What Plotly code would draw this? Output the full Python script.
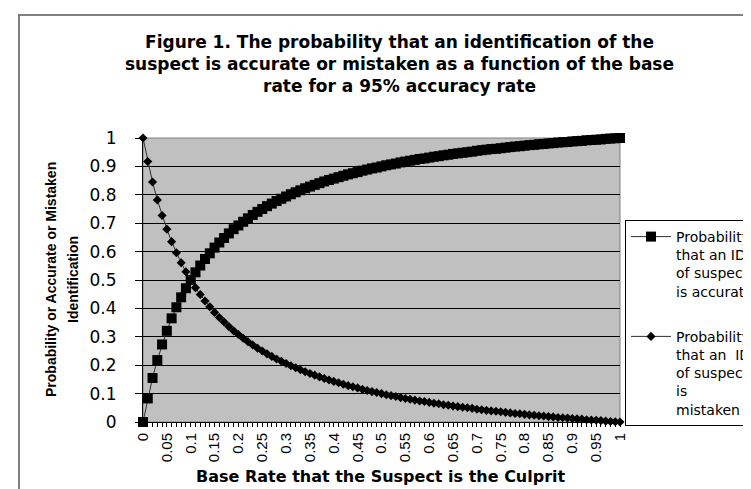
import plotly.graph_objects as go

# ---------------- data ----------------
base_rate = [0.00, 0.01, 0.02, 0.03, 0.04, 0.05, 0.06, 0.07, 0.08, 0.09,
             0.10, 0.11, 0.12, 0.13, 0.14, 0.15, 0.16, 0.17, 0.18, 0.19,
             0.20, 0.21, 0.22, 0.23, 0.24, 0.25, 0.26, 0.27, 0.28, 0.29,
             0.30, 0.31, 0.32, 0.33, 0.34, 0.35, 0.36, 0.37, 0.38, 0.39,
             0.40, 0.41, 0.42, 0.43, 0.44, 0.45, 0.46, 0.47, 0.48, 0.49,
             0.50, 0.51, 0.52, 0.53, 0.54, 0.55, 0.56, 0.57, 0.58, 0.59,
             0.60, 0.61, 0.62, 0.63, 0.64, 0.65, 0.66, 0.67, 0.68, 0.69,
             0.70, 0.71, 0.72, 0.73, 0.74, 0.75, 0.76, 0.77, 0.78, 0.79,
             0.80, 0.81, 0.82, 0.83, 0.84, 0.85, 0.86, 0.87, 0.88, 0.89,
             0.90, 0.91, 0.92, 0.93, 0.94, 0.95, 0.96, 0.97, 0.98, 0.99, 1.00]

p_accurate = [0.000, 0.083, 0.155, 0.218, 0.273, 0.321, 0.365, 0.404, 0.439, 0.471,
              0.500, 0.527, 0.551, 0.574, 0.594, 0.614, 0.632, 0.648, 0.664, 0.679,
              0.692, 0.705, 0.717, 0.729, 0.740, 0.750, 0.760, 0.769, 0.778, 0.786,
              0.794, 0.802, 0.809, 0.816, 0.823, 0.829, 0.835, 0.841, 0.847, 0.852,
              0.857, 0.862, 0.867, 0.872, 0.876, 0.880, 0.885, 0.889, 0.893, 0.896,
              0.900, 0.904, 0.907, 0.910, 0.914, 0.917, 0.920, 0.923, 0.926, 0.928,
              0.931, 0.934, 0.936, 0.939, 0.941, 0.944, 0.946, 0.948, 0.950, 0.952,
              0.955, 0.957, 0.959, 0.961, 0.962, 0.964, 0.966, 0.968, 0.970, 0.971,
              0.973, 0.975, 0.976, 0.978, 0.979, 0.981, 0.982, 0.984, 0.985, 0.986,
              0.988, 0.989, 0.990, 0.992, 0.993, 0.994, 0.995, 0.997, 0.998, 0.999, 1.000]

p_mistaken = [1.000, 0.917, 0.845, 0.782, 0.727, 0.679, 0.635, 0.596, 0.561, 0.529,
              0.500, 0.473, 0.449, 0.426, 0.406, 0.386, 0.368, 0.352, 0.336, 0.321,
              0.308, 0.295, 0.283, 0.271, 0.260, 0.250, 0.240, 0.231, 0.222, 0.214,
              0.206, 0.198, 0.191, 0.184, 0.177, 0.171, 0.165, 0.159, 0.153, 0.148,
              0.143, 0.138, 0.133, 0.128, 0.124, 0.120, 0.115, 0.111, 0.107, 0.104,
              0.100, 0.096, 0.093, 0.090, 0.086, 0.083, 0.080, 0.077, 0.074, 0.072,
              0.069, 0.066, 0.064, 0.061, 0.059, 0.056, 0.054, 0.052, 0.050, 0.048,
              0.045, 0.043, 0.041, 0.039, 0.038, 0.036, 0.034, 0.032, 0.030, 0.029,
              0.027, 0.025, 0.024, 0.022, 0.021, 0.019, 0.018, 0.016, 0.015, 0.014,
              0.012, 0.011, 0.010, 0.008, 0.007, 0.006, 0.005, 0.003, 0.002, 0.001, 0.000]

x_tick_vals = [0, 0.05, 0.1, 0.15, 0.2, 0.25, 0.3, 0.35, 0.4, 0.45, 0.5,
               0.55, 0.6, 0.65, 0.7, 0.75, 0.8, 0.85, 0.9, 0.95, 1]
x_tick_text = ["0", "0.05", "0.1", "0.15", "0.2", "0.25", "0.3", "0.35", "0.4", "0.45", "0.5",
               "0.55", "0.6", "0.65", "0.7", "0.75", "0.8", "0.85", "0.9", "0.95", "1"]
y_tick_vals = [0, 0.1, 0.2, 0.3, 0.4, 0.5, 0.6, 0.7, 0.8, 0.9, 1]
y_tick_text = ["0", "0.1", "0.2", "0.3", "0.4", "0.5", "0.6", "0.7", "0.8", "0.9", "1"]

series_names = ["Probability<br>that an ID<br>of suspect<br>is accurate",
                "Probability<br>that an  ID<br>of suspect<br>is<br>mistaken"]
title_text = ("Figure 1. The probability that an identification of the<br>"
              "suspect is accurate or mistaken as a function of the base<br>"
              "rate for a 95% accuracy rate")
x_title = "Base Rate that the Suspect is the Culprit"
y_title_lines = ["Probability or Accurate or Mistaken", "Identification"]

# ---------------- layout geometry (pixels) ----------------
W, H = 751, 489
PL, PR, PT, PB = 135, 612, 130, 414   # plot area edges


def px2x(px):
    return (px - PL) / (PR - PL)


def py2y(py):
    return (PB - py) / (PB - PT)


SANS = "DejaVu Sans, Verdana, sans-serif"
ARIAL = "Liberation Sans, Arial, sans-serif"

fig = go.Figure()
fig.add_trace(go.Scatter(
    x=base_rate, y=p_accurate, mode="lines+markers", name=series_names[0],
    legendgroup="acc",
    line=dict(color="#303030", width=1),
    marker=dict(symbol="square", size=10, color="black"),
    cliponaxis=False))
fig.add_trace(go.Scatter(
    x=base_rate, y=p_mistaken, mode="lines+markers", name=series_names[1],
    legendgroup="mis",
    line=dict(color="#303030", width=1),
    marker=dict(symbol="diamond", size=7, color="black"),
    cliponaxis=False))

annotations = [
    dict(text=title_text, x=px2x(391), y=py2y(56), xref="paper", yref="paper",
         xanchor="center", yanchor="middle", showarrow=False, align="center",
         font=dict(family=SANS, size=17, color="black", weight="bold")),
    dict(text=x_title, x=px2x(373), y=py2y(468), xref="paper", yref="paper",
         xanchor="center", yanchor="middle", showarrow=False,
         font=dict(family=SANS, size=16, color="black", weight="bold")),
]
for line, px in zip(y_title_lines, [43, 65]):
    annotations.append(dict(text=line, x=px2x(px), y=py2y(272), xref="paper", yref="paper",
                            xanchor="center", yanchor="middle", showarrow=False, textangle=-90,
                            font=dict(family=ARIAL, size=14, color="black", weight="bold")))

shapes = [
    # outer chart frame (runs off the right and bottom of the picture)
    dict(type="rect", xref="paper", yref="paper",
         x0=px2x(11), x1=px2x(775), y0=py2y(505), y1=py2y(7),
         line=dict(color="#808080", width=2), fillcolor="rgba(0,0,0,0)", layer="below"),
    # plot-area border
    dict(type="rect", xref="paper", yref="paper", x0=0, x1=1, y0=0, y1=1,
         line=dict(color="#808080", width=1), fillcolor="rgba(0,0,0,0)", layer="below"),
]

fig.update_layout(
    width=W, height=H,
    margin=dict(l=PL, r=W - PR, t=PT, b=H - PB, autoexpand=False),
    paper_bgcolor="white", plot_bgcolor="#C0C0C0",
    showlegend=True,
    legend=dict(x=px2x(617), y=py2y(212), xanchor="left", yanchor="top",
                xref="paper", yref="paper",
                bgcolor="white", bordercolor="black", borderwidth=1,
                font=dict(family=SANS, size=14, color="black"),
                valign="top", itemwidth=40, tracegroupgap=24),
    annotations=annotations,
    shapes=shapes,
    xaxis=dict(range=[0, 1], tickvals=x_tick_vals, ticktext=x_tick_text, tickangle=-90,
               ticks="outside", ticklen=4, tickcolor="black", tickwidth=1,
               showline=True, linecolor="black", linewidth=1,
               showgrid=False, zeroline=False,
               minor=dict(tickvals=base_rate, ticks="outside", ticklen=4,
                          tickcolor="black", showgrid=False),
               tickfont=dict(family=ARIAL, size=15, color="black")),
    yaxis=dict(range=[0, 1], tickvals=y_tick_vals, ticktext=y_tick_text,
               ticks="outside", ticklen=7, tickcolor="black", tickwidth=1,
               showline=True, linecolor="black", linewidth=1,
               showgrid=True, gridcolor="black", gridwidth=1, zeroline=False,
               ticklabelstandoff=15,
               tickfont=dict(family=SANS, size=17, color="black")),
)

fig.write_html("out.html")
